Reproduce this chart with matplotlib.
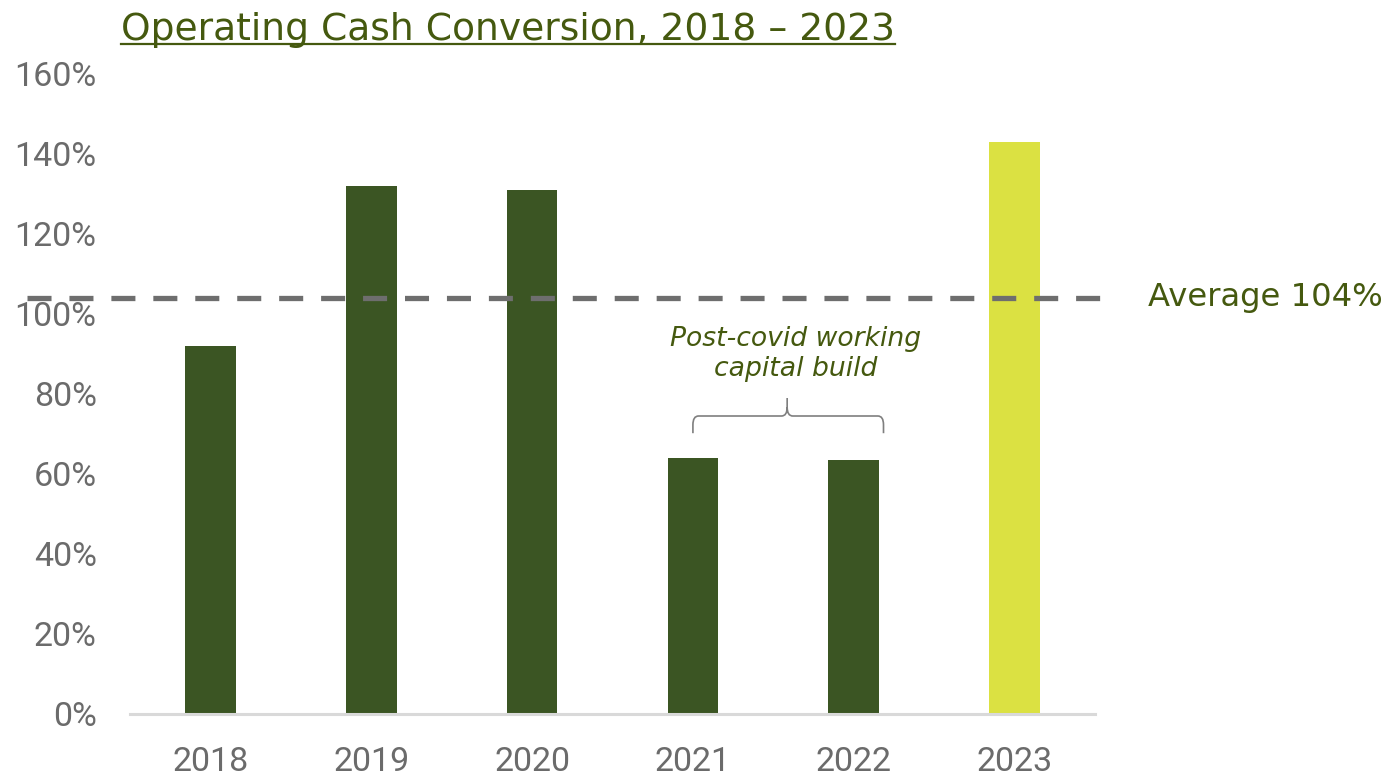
import matplotlib
matplotlib.use("Agg")
import matplotlib.pyplot as plt
from matplotlib.path import Path
from matplotlib.patches import PathPatch
from matplotlib.lines import Line2D
from matplotlib import font_manager
import matplotlib.transforms as mtransforms

# --- data -------------------------------------------------------------
years = ["2018", "2019", "2020", "2021", "2022", "2023"]
cash_conversion = [92, 132, 131, 64, 63.5, 143]   # % of operating profit
average_value = 104
y_ticks = [0, 20, 40, 60, 80, 100, 120, 140, 160]

title_text = "Operating Cash Conversion, 2018 \u2013 2023"
average_label = "Average 104%"
note_text = "Post-covid working\ncapital build"

# --- style ------------------------------------------------------------
dark_green = "#3b5523"
lime = "#dbe142"
olive_text = "#45590f"
tick_grey = "#6b6b6b"
axis_grey = "#d9d9d9"
dash_grey = "#6e6e6e"

available = {f.name for f in font_manager.fontManager.ttflist}
tick_family = "Liberation Sans Narrow" if "Liberation Sans Narrow" in available else "Roboto"

plt.rcParams["lines.scale_dashes"] = False

fig = plt.figure(figsize=(13.9, 7.76), dpi=100)
ax = fig.add_axes([130 / 1390, 1 - 714 / 776, 965 / 1390, (714 - 74) / 776])

x = list(range(len(years)))
colors = [dark_green] * (len(years) - 1) + [lime]
ax.bar(x, cash_conversion, width=0.315, color=colors, zorder=2)

ax.set_xlim(-0.5, len(years) - 0.5)
ax.set_ylim(0, 160)
ax.set_yticks(y_ticks)
ax.set_yticklabels([f"{v}%" for v in y_ticks])
ax.set_xticks(x)
ax.set_xticklabels(years)

for lab in ax.get_yticklabels() + ax.get_xticklabels():
    lab.set_family(tick_family)
    lab.set_fontsize(24.5)
    lab.set_color(tick_grey)

ax.tick_params(axis="y", length=0, pad=24)
ax.tick_params(axis="x", length=0, pad=23)

for side in ("top", "right", "left"):
    ax.spines[side].set_visible(False)
ax.spines["bottom"].set_color(axis_grey)
ax.spines["bottom"].set_linewidth(2.2)
ax.spines["bottom"].set_zorder(3)

# average line, running past the left edge of the plot area
blend = mtransforms.blended_transform_factory(ax.transAxes, ax.transData)
avg_line = Line2D([-0.107, 1.006], [average_value, average_value], transform=blend,
                  color=dash_grey, linewidth=3.8, linestyle=(0, (17.3, 12.9)),
                  solid_capstyle="butt", dash_capstyle="butt", clip_on=False, zorder=4)
ax.add_line(avg_line)
ax.text(1.055, average_value, average_label, transform=blend, ha="left", va="center",
        fontsize=23.2, color=olive_text, family="DejaVu Sans")

# curly bracket over 2021-2022
x0, x1, xc = 3.0, 4.185, 3.586
y_end, y_bar, y_tip = 70.2, 74.5, 79.0
rx, ry = 0.035, 2.2
verts = [
    (x0, y_end), (x0, y_bar - ry), (x0, y_bar), (x0 + rx, y_bar),
    (xc - rx, y_bar), (xc, y_bar), (xc, y_bar + ry), (xc, y_tip),
    (xc, y_bar + ry), (xc, y_bar), (xc + rx, y_bar),
    (x1 - rx, y_bar), (x1, y_bar), (x1, y_bar - ry), (x1, y_end),
]
codes = [
    Path.MOVETO, Path.LINETO, Path.CURVE3, Path.CURVE3,
    Path.LINETO, Path.CURVE3, Path.CURVE3, Path.LINETO,
    Path.MOVETO, Path.CURVE3, Path.CURVE3,
    Path.LINETO, Path.CURVE3, Path.CURVE3, Path.LINETO,
]
ax.add_patch(PathPatch(Path(verts, codes), facecolor="none", edgecolor="#7f7f7f",
                       linewidth=1.2, zorder=3))
ax.text(3.636, 90, note_text, ha="center", va="center", fontsize=19.2,
        style="italic", color=olive_text, family="DejaVu Sans", linespacing=1.2)

# underlined title
title = fig.text(121 / 1390, 1 - 40 / 776, title_text, ha="left", va="baseline",
                 fontsize=27.1, color=olive_text, family="DejaVu Sans")
fig.canvas.draw()
bb = title.get_window_extent(renderer=fig.canvas.get_renderer())
uy = 1 - 43.5 / 776
fig.add_artist(Line2D([bb.x0 / fig.bbox.width, bb.x1 / fig.bbox.width], [uy, uy],
                      transform=fig.transFigure, color=olive_text, linewidth=1.6))

fig.savefig("out.png", dpi=100)
